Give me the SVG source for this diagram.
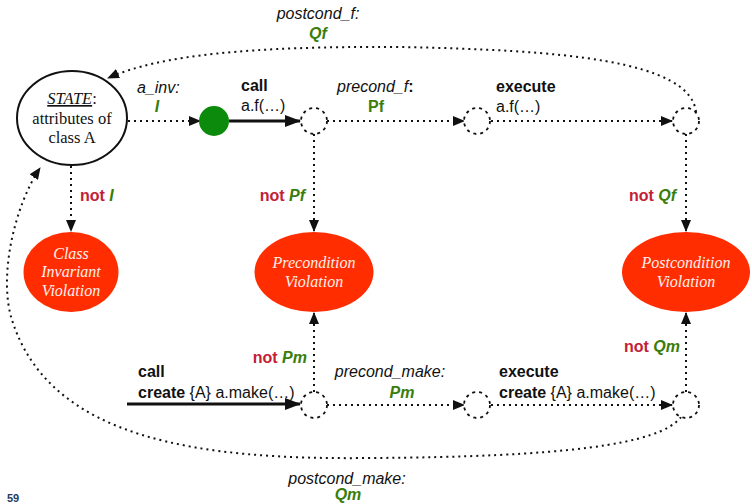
<svg xmlns="http://www.w3.org/2000/svg" width="752" height="504" viewBox="0 0 752 504">
<style>
.sans{font-family:"Liberation Sans",Arial,Helvetica,sans-serif;font-size:16px;fill:#111}
.b{font-weight:bold}
.i{font-style:italic}
.grn{fill:#3A7D0A;font-weight:bold}
.nred{fill:#C42035;font-weight:bold}
.serif{font-family:"Liberation Serif","Times New Roman",serif;font-size:16.5px;fill:#111}
.vtxt{font-family:"Liberation Serif","Times New Roman",serif;font-size:16px;font-style:italic;fill:#FFF0EC}
.dot{fill:none;stroke:#111;stroke-width:2;stroke-dasharray:2 4}
.solid{fill:none;stroke:#111;stroke-width:3}
.junc{fill:#fff;stroke:#111;stroke-width:1.8;stroke-dasharray:3 4}
.viol{fill:#FF2D00;stroke:none}
</style>
<defs>
<marker id="ah" markerUnits="userSpaceOnUse" markerWidth="12" markerHeight="10" refX="11" refY="5" orient="auto">
<path d="M0,0 L12,5 L0,10 z" fill="#111"/>
</marker>
<marker id="ahs" markerUnits="userSpaceOnUse" markerWidth="16" markerHeight="12" refX="15" refY="6" orient="auto">
<path d="M0,0 L16,6 L0,12 z" fill="#111"/>
</marker>
</defs>

<g id="connectors">
<path class="dot" d="M128,121 H200" marker-end="url(#ah)"/>
<path class="solid" d="M229,121 H300" marker-end="url(#ahs)"/>
<path class="dot" d="M327,121 H464" marker-end="url(#ah)"/>
<path class="dot" d="M491,121 H672" marker-end="url(#ah)"/>
<path class="dot" d="M696,112 C690,60 560,50 400,47 C250,46 160,55 108,78" marker-end="url(#ah)"/>
<path class="dot" d="M71,166 V231" marker-end="url(#ah)"/>
<path class="dot" d="M314,134 V231" marker-end="url(#ah)"/>
<path class="dot" d="M686,134 V231" marker-end="url(#ah)"/>
<path class="dot" d="M314,392 V313" marker-end="url(#ah)"/>
<path class="dot" d="M686,392 V313" marker-end="url(#ah)"/>
<path class="solid" d="M127,404 H300" marker-end="url(#ahs)"/>
<path class="dot" d="M327,405 H464" marker-end="url(#ah)"/>
<path class="dot" d="M491,405 H672" marker-end="url(#ah)"/>
<path class="dot" d="M681,417 C660,445 560,457 370,458 C200,460 50,440 12,320 C-2,276 15,205 40,168" marker-end="url(#ah)"/>

<text class="sans i" x="318" y="19" text-anchor="middle">postcond_f:</text>
<text class="sans grn i" x="318" y="39" text-anchor="middle">Qf</text>
<text class="sans i" x="137" y="93">a_inv:</text>
<text class="sans grn i" x="157" y="112" text-anchor="middle">I</text>
<text class="sans b" x="241" y="91">call</text>
<text class="sans" x="241" y="111">a.f(…)</text>
<text class="sans i" x="337" y="92">precond_f<tspan class="b" font-style="normal">:</tspan></text>
<text class="sans grn" x="376" y="112" text-anchor="middle">Pf</text>
<text class="sans b" x="496" y="92">execute</text>
<text class="sans" x="496" y="112">a.f(…)</text>
<text class="sans" x="80" y="201"><tspan class="nred">not </tspan><tspan class="grn i">I</tspan></text>
<text class="sans" x="305" y="201" text-anchor="end"><tspan class="nred">not </tspan><tspan class="grn i">Pf</tspan></text>
<text class="sans" x="676" y="201" text-anchor="end"><tspan class="nred">not </tspan><tspan class="grn i">Qf</tspan></text>
<text class="sans" x="307" y="363" text-anchor="end"><tspan class="nred">not </tspan><tspan class="grn i">Pm</tspan></text>
<text class="sans" x="680" y="352" text-anchor="end"><tspan class="nred">not </tspan><tspan class="grn i">Qm</tspan></text>
<text class="sans b" x="138" y="377">call</text>
<text class="sans" x="138" y="398"><tspan class="b">create</tspan> {A} a.make(…)</text>
<text class="sans i" x="390" y="377" text-anchor="middle">precond_make:</text>
<text class="sans grn i" x="402" y="398" text-anchor="middle">Pm</text>
<text class="sans b" x="499" y="377">execute</text>
<text class="sans" x="499" y="398"><tspan class="b">create</tspan> {A} a.make(…)</text>
<text class="sans i" x="347" y="484" text-anchor="middle">postcond_make:</text>
<text class="sans grn i" x="348" y="500" text-anchor="middle">Qm</text>
</g>

<g id="state">
<ellipse cx="72" cy="118" rx="55" ry="47" fill="#fff" stroke="#111" stroke-width="2"/>
<text class="serif" x="72" y="104" text-anchor="middle"><tspan font-style="italic" text-decoration="underline">STATE</tspan>:</text>
<text class="serif" x="72" y="124" text-anchor="middle">attributes of</text>
<text class="serif" x="72" y="143" text-anchor="middle">class A</text>
</g>

<g id="start"><circle cx="214" cy="121" r="15" fill="#0B8A0B"/></g>

<g id="j1"><circle class="junc" cx="314" cy="121" r="13"/></g>
<g id="j2"><circle class="junc" cx="477" cy="121" r="13"/></g>
<g id="j3"><circle class="junc" cx="686" cy="121" r="13"/></g>
<g id="j4"><circle class="junc" cx="314" cy="405" r="13"/></g>
<g id="j5"><circle class="junc" cx="477" cy="405" r="13"/></g>
<g id="j6"><circle class="junc" cx="686" cy="405" r="13"/></g>

<g id="classInvViolation">
<ellipse class="viol" cx="71" cy="272" rx="47.5" ry="40"/>
<text class="vtxt" x="71" y="259" text-anchor="middle">Class</text>
<text class="vtxt" x="71" y="277" text-anchor="middle">Invariant</text>
<text class="vtxt" x="71" y="296" text-anchor="middle">Violation</text>
</g>
<g id="preViolation">
<ellipse class="viol" cx="314" cy="272" rx="59.5" ry="40"/>
<text class="vtxt" x="314" y="268" text-anchor="middle">Precondition</text>
<text class="vtxt" x="314" y="287" text-anchor="middle">Violation</text>
</g>
<g id="postViolation">
<ellipse class="viol" cx="686" cy="272" rx="64" ry="40"/>
<text class="vtxt" x="686" y="268" text-anchor="middle">Postcondition</text>
<text class="vtxt" x="686" y="287" text-anchor="middle">Violation</text>
</g>

<text x="7" y="502" font-family="'Liberation Sans',Arial,sans-serif" font-size="11" font-weight="bold" fill="#1F3A60">59</text>
</svg>
